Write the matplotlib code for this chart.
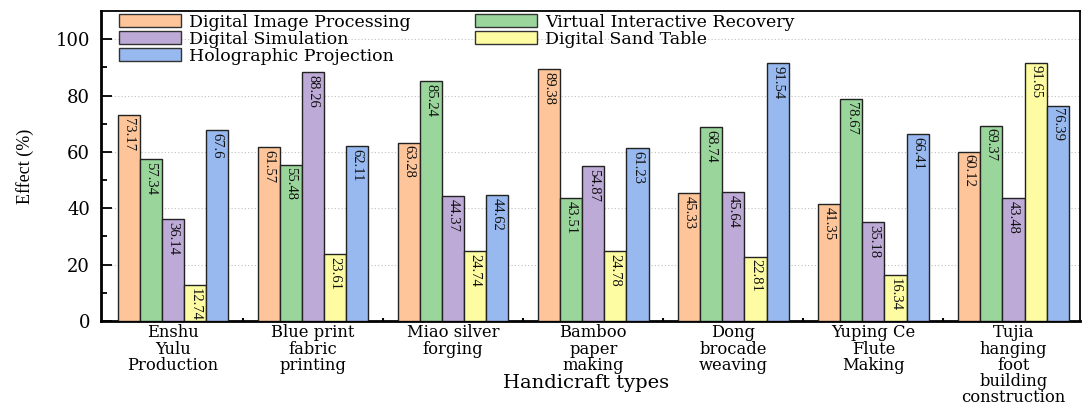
import matplotlib
matplotlib.use("Agg")
import matplotlib.pyplot as plt
import numpy as np
from matplotlib.patches import Patch
from matplotlib.ticker import FixedLocator

categories = ["Enshu\nYulu\nProduction", "Blue print\nfabric\nprinting",
              "Miao silver\nforging", "Bamboo\npaper\nmaking",
              "Dong\nbrocade\nweaving", "Yuping Ce\nFlute\nMaking",
              "Tujia\nhanging\nfoot\nbuilding\nconstruction"]
series_names = ["Digital Image Processing", "Virtual Interactive Recovery",
                "Digital Simulation", "Digital Sand Table", "Holographic Projection"]
dip = [73.17, 61.57, 63.28, 89.38, 45.33, 41.35, 60.12]
vir = [57.34, 55.48, 85.24, 43.51, 68.74, 78.67, 69.37]
dsim = [36.14, 88.26, 44.37, 54.87, 45.64, 35.18, 43.48]
dst = [12.74, 23.61, 24.74, 24.78, 22.81, 16.34, 91.65]
hp = [67.6, 62.11, 44.62, 61.23, 91.54, 66.41, 76.39]
series = [dip, vir, dsim, dst, hp]
colors = ["#FDC599", "#9AD69C", "#BEAAD6", "#FEFCA2", "#98B9EF"]

fig = plt.figure(figsize=(10.83, 4.05), dpi=100)
ax = fig.add_axes([101/1083, 84/405, (1080-101)/1083, 310/405])

x = np.arange(len(categories))
w = 0.158
for i, (vals, c) in enumerate(zip(series, colors)):
    pos = x + (i - 2) * w
    ax.bar(pos, vals, width=w, color=c, edgecolor="#222222", linewidth=1.0, zorder=3)
    for p, v in zip(pos, vals):
        ax.annotate(f"{v:g}", (p, v), xytext=(0, -2), textcoords="offset points",
                    rotation=270, ha="center", va="top", fontsize=10.5,
                    family="Liberation Serif", color="#111111", zorder=4)

ax.set_xlim(-0.514, 6.475)
ax.set_ylim(0, 110)
ax.yaxis.set_major_locator(FixedLocator([0, 20, 40, 60, 80, 100]))
ax.yaxis.set_minor_locator(FixedLocator([10, 30, 50, 70, 90]))
ax.set_xticks(x)
ax.set_xticklabels(categories, family="DejaVu Serif", fontsize=11.8, linespacing=0.93)
ax.xaxis.set_minor_locator(FixedLocator(x[:-1] + 0.5))
ax.tick_params(axis="y", which="major", direction="in", length=8, width=1.3,
               labelsize=13, pad=8)
ax.tick_params(axis="y", which="minor", direction="in", length=4, width=1.3)
ax.tick_params(axis="x", which="major", direction="in", length=5, width=1.5, pad=2.5)
ax.tick_params(axis="x", which="minor", direction="in", length=2, width=1.5)
for lab in ax.get_yticklabels():
    lab.set_family("DejaVu Serif")

for y in [20, 40, 60, 80, 100]:
    ax.axhline(y, color="#c0c0c0", linestyle=(0, (1, 2)), linewidth=0.8, zorder=1)

for s in ax.spines.values():
    s.set_linewidth(1.3)
ax.spines["left"].set_linewidth(2)
ax.spines["bottom"].set_linewidth(2)

ax.set_ylabel("Effect (%)", family="Liberation Serif", fontsize=13)
ax.yaxis.set_label_coords(-0.068, 0.5)
ax.set_xlabel("Handicraft types", family="DejaVu Serif", fontsize=14)
ax.xaxis.set_label_coords(0.495, -0.172)

order = [0, 2, 4, 1, 3]
handles = [Patch(facecolor=colors[i], edgecolor="#333333", linewidth=1.0) for i in order]
labels = [series_names[i] for i in order]
leg = ax.legend(handles, labels, ncol=2, loc="upper left",
                bbox_to_anchor=(16/979, 0.997), frameon=False,
                prop={"family": "DejaVu Serif", "size": 12.5},
                handlelength=3.6, handleheight=0.75, handletextpad=0.45,
                labelspacing=0.0, columnspacing=3.7, borderpad=0.1, borderaxespad=0)

fig.savefig("out.png", dpi=100)
